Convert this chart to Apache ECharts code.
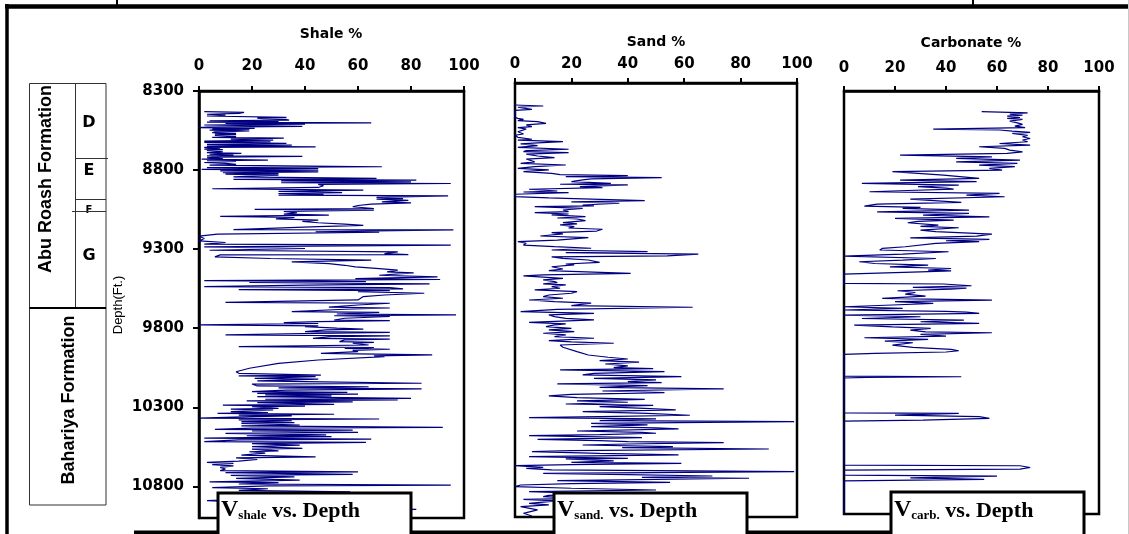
<!DOCTYPE html>
<html>
<head>
<meta charset="utf-8">
<script src="https://cdn.jsdelivr.net/npm/echarts@6/dist/echarts.min.js"></script>
<style>
html,body{margin:0;padding:0;background:#fff;}
#c{width:1129px;height:534px;}
</style>
</head>
<body>
<div id="c"></div>
<script>
// ---------- DATA ----------
const depthTicks = [8300, 8800, 9300, 9800, 10300, 10800];
const depthRange = [8300, 11000];
const pctRange = [0, 100];
const panelTitles = ['Shale %', 'Sand %', 'Carbonate %'];
const panelNotes = [['V', 'shale'], ['V', 'sand.'], ['V', 'carb.']];
const formationNames = ['Abu Roash Formation', 'Bahariya Formation'];
const memberNames = ['D', 'E', 'F', 'G'];
const depthName = 'Depth(Ft.)';

// [depth (ft), shale %]
const shaleLog = [
[8431,2],[8435,17],[8442,15],[8447,3],[8452,10],[8458,3],[8467,33],[8471,22],[8475,24],[8480,33],[8484,34],[8488,4],[8492,30],[8497,3],[8501,65],[8505,10],[8509,40],[8515,2],[8519,20],[8524,39],[8528,3],[8532,0],[8536,21],[8539,5],[8543,19],[8547,4],[8553,19],[8558,6],[8564,5],[8568,14],[8572,6],[8576,14],[8581,6],[8589,14],[8593,5],[8598,32],[8604,12],[8610,28],[8617,2],[8621,27],[8625,2],[8631,33],[8637,3],[8642,35],[8648,3],[8653,44],[8657,2],[8661,8],[8667,2],[8671,9],[8676,3],[8684,9],[8690,3],[8695,16],[8700,4],[8705,13],[8710,3],[8714,39],[8718,6],[8722,3],[8727,9],[8731,1],[8737,26],[8741,3],[8745,14],[8752,2],[8758,10],[8764,14],[8769,4],[8779,69],[8785,3],[8790,45],[8796,1],[8800,45],[8805,8],[8811,45],[8817,9],[8822,30],[8826,10],[8832,30],[8838,30],[8843,13],[8853,67],[8859,13],[8864,82],[8868,31],[8874,80],[8880,31],[8885,95],[8890,45],[8899,47],[8910,45],[8918,5],[8927,62],[8935,30],[8942,54],[8948,30],[8954,47],[8958,30],[8963,94],[8973,67],[8980,77],[8984,67],[8992,79],[9001,69],[9007,80],[9015,65],[9024,60],[9032,58],[9043,66],[9048,21],[9053,66],[9062,32],[9070,37],[9079,32],[9085,49],[9093,8],[9100,36],[9108,29],[9117,45],[9125,39],[9133,45],[9142,55],[9150,62],[9158,45],[9165,45],[9176,13],[9178,96],[9190,44],[9193,68],[9205,7],[9218,0],[9233,2],[9248,0],[9258,10],[9268,2],[9275,95],[9285,2],[9296,40],[9307,4],[9317,75],[9328,70],[9334,79],[9336,8],[9349,6],[9359,27],[9370,65],[9380,35],[9391,49],[9402,55],[9412,59],[9423,68],[9433,75],[9444,71],[9450,81],[9465,68],[9475,90],[9486,59],[9492,91],
[9494,60],[9499,2],[9505,63],[9511,19],[9520,87],[9528,40],[9537,2],[9543,72],[9551,77],[9556,15],[9562,72],[9568,60],[9579,85],[9590,70],[9600,62],[9621,60],[9636,10],[9642,72],[9653,60],[9667,49],[9672,72],[9680,55],[9695,35],[9700,68],[9710,52],[9716,97],[9721,51],[9726,72],[9737,55],[9748,51],[9752,72],[9758,45],[9764,32],[9770,45],[9779,0],[9785,45],[9790,40],[9800,52],[9806,62],[9811,48],[9821,40],[9826,72],[9832,45],[9842,10],[9848,72],[9853,50],[9864,43],[9869,72],[9874,55],[9885,53],[9890,66],[9895,58],[9906,64],[9916,15],[9922,66],[9927,55],[9933,72],[9940,58],[9948,60],[9959,46],[9969,88],[9975,66],[9980,70],[10001,45],[10022,30],[10053,19],[10075,14],[10085,15],[10096,46],[10101,15],[10106,44],[10117,21],[10122,45],[10127,35],[10133,22],[10138,40],[10148,84],[10153,20],[10165,22],[10170,64],[10177,30],[10184,84],[10192,33],[10201,20],[10206,56],[10212,22],[10217,60],[10222,25],[10228,50],[10233,22],[10243,80],[10249,25],[10254,75],[10260,18],[10266,58],[10271,22],[10281,51],[10286,9],[10292,40],[10296,20],[10307,30],[10312,12],[10317,28],[10328,12],[10333,26],[10338,7],[10344,51],[10349,15],[10354,35],[10359,20],[10369,0],[10374,68],[10380,15],[10385,35],[10391,16],[10397,36],[10402,16],[10412,38],[10418,16],[10427,92],[10432,20],[10440,6],[10444,58],[10450,20],[10458,60],[10465,10],[10474,48],[10480,18],[10486,50],[10495,2],[10501,65],[10506,15],[10517,2],[10522,63],[10530,20],[10539,38],[10549,20],[10560,39],[10565,20],[10575,30],[10581,19],[10590,25],[10603,16],[10613,44],[10620,14],[10630,22],[10640,15],[10648,3],[10655,13],[10662,5],[10670,13],[10680,8],[10690,10],[10700,8],[10708,60],[10713,10],[10724,58],[10730,12],[10740,36],[10750,14],[10760,38],[10771,4],[10776,30],[10785,15],[10792,95],[10797,26],[10808,5],[10815,26],[10825,15],[10834,57],[10840,12],[10855,30],[10868,8],[10880,20],[10890,3],[10900,18],[10915,25],[10930,40],[10946,82],[10960,20],[10975,30],[10988,10]
];

// [depth (ft), sand %]
const sandLog = [
[8437,0],[8443,10],[8451,1],[8464,6],[8470,0],[8489,0],[8513,0],[8520,1],[8526,3],[8534,1],[8540,8],[8551,11],[8561,4],[8571,6],[8578,1],[8586,4],[8592,3],[8603,1],[8617,3],[8625,0],[8638,1],[8650,6],[8656,1],[8665,17],[8673,8],[8679,2],[8690,8],[8700,1],[8712,19],[8721,4],[8727,3],[8733,19],[8742,4],[8754,8],[8764,14],[8773,4],[8779,4],[8791,7],[8800,2],[8810,18],[8820,7],[8831,1],[8841,12],[8851,3],[8862,13],[8870,16],[8876,40],[8883,18],[8889,52],[8897,27],[8903,24],[8914,20],[8924,34],[8930,16],[8934,40],[8945,23],[8951,31],[8961,5],[8972,15],[8978,3],[8982,19],[8992,0],[9007,0],[9015,12],[9021,24],[9032,46],[9040,20],[9048,37],[9059,24],[9065,28],[9069,7],[9080,24],[9090,17],[9100,19],[9107,7],[9115,19],[9121,13],[9131,25],[9140,15],[9146,22],[9156,25],[9169,17],[9177,22],[9183,16],[9194,21],[9202,19],[9210,31],[9221,29],[9231,13],[9239,17],[9252,9],[9262,26],[9277,15],[9287,1],[9297,4],[9308,3],[9318,14],[9328,27],[9339,13],[9349,47],[9355,18],[9364,65],[9376,54],[9382,13],[9391,17],[9401,26],[9416,30],[9426,18],[9432,21],[9443,13],[9457,17],[9467,12],[9484,41],[9494,10],
[9500,3],[9515,17],[9525,10],[9536,14],[9542,15],[9550,10],[9556,18],[9567,13],[9577,16],[9587,7],[9598,22],[9608,20],[9619,12],[9629,10],[9639,17],[9650,5],[9660,14],[9670,27],[9685,20],[9695,63],[9708,15],[9722,2],[9733,28],[9743,12],[9753,14],[9764,18],[9774,28],[9789,5],[9799,18],[9805,14],[9816,11],[9826,20],[9836,12],[9847,21],[9857,10],[9867,18],[9878,14],[9888,28],[9903,12],[9911,20],[9919,35],[9930,16],[9944,17],[9971,22],[9992,26],[10006,33],[10017,40],[10027,30],[10037,44],[10048,32],[10060,40],[10071,35],[10077,49],[10085,16],[10096,53],[10106,28],[10116,24],[10127,59],[10137,28],[10147,50],[10158,40],[10164,52],[10172,15],[10183,47],[10193,30],[10203,74],[10216,31],[10226,53],[10237,20],[10247,12],[10257,22],[10268,46],[10278,22],[10286,40],[10297,18],[10305,49],[10313,30],[10324,46],[10334,57],[10344,24],[10355,47],[10367,62],[10376,30],[10382,5],[10390,50],[10400,30],[10407,99],[10417,27],[10427,47],[10438,27],[10446,50],[10452,58],[10465,22],[10473,45],[10479,50],[10488,30],[10494,5],[10506,45],[10517,8],[10525,30],[10531,40],[10537,74],[10546,40],[10552,24],[10562,56],[10568,38],[10577,90],[10587,20],[10593,6],[10604,30],[10614,58],[10624,5],[10635,40],[10639,18],[10651,35],[10660,20],[10666,59],[10674,20],[10680,0],[10691,10],[10697,4],[10707,13],[10718,99],[10728,10],[10736,40],[10745,70],[10753,45],[10759,83],[10770,30],[10774,15],[10784,55],[10792,20],[10801,2],[10811,0],[10821,20],[10832,50],[10842,5],[10857,30],[10865,12],[10873,10],[10884,25],[10890,3],[10900,15],[10915,5],[10925,12],[10936,2],[10956,8],[10977,3],[10994,6]
];

// [depth (ft), carbonate %]
const carbLog = [
[8432,54],[8439,72],[8447,65],[8454,70],[8460,64],[8469,69],[8475,64],[8481,70],[8492,65],[8503,68],[8513,70],[8524,67],[8534,71],[8543,35],[8549,61],[8556,66],[8564,73],[8571,66],[8583,72],[8592,70],[8603,73],[8613,70],[8624,72],[8635,61],[8645,73],[8656,53],[8666,63],[8677,65],[8688,70],[8698,64],[8709,22],[8720,58],[8730,44],[8741,69],[8752,44],[8762,68],[8773,53],[8783,67],[8794,57],[8805,62],[8815,19],[8826,19],[8837,39],[8847,39],[8858,53],[8869,22],[8879,52],[8890,7],[8901,45],[8911,29],[8920,40],[8926,43],[8935,25],[8943,10],[8954,61],[8964,48],[8975,63],[8990,26],[9001,26],[9011,46],[9022,13],[9035,8],[9043,30],[9049,23],[9060,49],[9071,13],[9081,49],[9092,31],[9103,57],[9113,20],[9124,43],[9132,29],[9141,25],[9156,37],[9164,30],[9173,45],[9188,30],[9198,36],[9213,58],[9226,52],[9237,26],[9247,57],[9256,40],[9262,53],[9273,36],[9284,36],[9294,24],[9305,15],[9315,14],[9326,41],[9341,23],[9354,0],[9369,36],[9379,23],[9390,6],[9401,12],[9411,33],[9422,18],[9433,42],[9443,33],[9448,42],[9454,30],[9469,0],
[9528,0],[9532,39],[9543,50],[9554,27],[9558,48],[9564,42],[9575,21],[9586,28],[9596,24],[9609,32],[9624,15],[9635,58],[9645,20],[9656,35],[9666,19],[9677,0],[9688,23],[9698,0],[9707,40],[9711,48],[9720,53],[9730,0],[9741,30],[9752,7],[9762,47],[9773,30],[9783,53],[9794,4],[9805,19],[9815,34],[9826,26],[9837,32],[9843,58],[9854,30],[9864,40],[9875,8],[9886,33],[9896,16],[9907,27],[9922,19],[9937,27],[9949,42],[9958,45],[9966,40],[9975,12],[9981,0],
[10120,0],[10124,46],[10128,9],[10132,0],[10354,0],[10358,45],[10369,20],[10379,53],[10390,57],[10401,31],[10407,0],[10688,0],[10692,69],[10703,73],[10713,69],[10720,0],[10752,0],[10758,60],[10769,26],[10779,55],[10788,0],[10995,0]
];

const logs = [shaleLog, sandLog, carbLog];

// ---------- LAYOUT ----------
const gridBoxes = [
  {left: 199, top: 91, width: 265, height: 427},
  {left: 515, top: 83, width: 282, height: 434},
  {left: 844, top: 91, width: 255, height: 423}
];
const xLabelMargin = [17, 11, 15];
const titlePos = [[331, 34], [656, 42], [971, 43]];
const notePos = [[218, 493], [554, 493], [891, 492]];

const BLACK = '#000';
const LINE = '#000080';
const SANS = '"DejaVu Sans", sans-serif';
const SERIF = '"Liberation Serif", "Times New Roman", serif';

const chart = echarts.init(document.getElementById('c'), null, {renderer: 'canvas'});

const grid = gridBoxes.map(g => Object.assign({}, g, {
  show: true, borderColor: BLACK, borderWidth: 2.5, backgroundColor: 'transparent', containLabel: false
}));

const xAxis = gridBoxes.map((g, i) => ({
  type: 'value', gridIndex: i, position: 'top',
  min: pctRange[0], max: pctRange[1], interval: 20,
  axisLine: {show: true, lineStyle: {color: BLACK, width: 2.5}},
  axisTick: {show: true, inside: false, length: 5, lineStyle: {color: BLACK, width: 2}},
  axisLabel: {show: true, color: BLACK, fontFamily: SANS, fontWeight: 'bold', fontSize: 15, margin: xLabelMargin[i],
    formatter: v => String(v)},
  splitLine: {show: false}
}));

const yAxis = gridBoxes.map((g, i) => i === 0 ? ({
  type: 'value', gridIndex: i, inverse: true,
  min: depthRange[0], max: depthRange[1],
  axisLine: {show: true, lineStyle: {color: BLACK, width: 2.5}},
  axisTick: {show: true, inside: false, length: 6, customValues: depthTicks, lineStyle: {color: BLACK, width: 2}},
  axisLabel: {show: true, customValues: depthTicks, color: BLACK, fontFamily: SANS, fontWeight: 'bold', fontSize: 15, margin: 15,
    formatter: v => String(v)},
  splitLine: {show: false}
}) : ({
  type: 'value', gridIndex: i, inverse: true,
  min: depthRange[0], max: depthRange[1], show: false,
  splitLine: {show: false}
}));

const series = logs.map((log, i) => ({
  type: 'line', xAxisIndex: i, yAxisIndex: i,
  data: log.map(p => [p[1], p[0]]),
  showSymbol: false, symbol: 'none', silent: true, z: 3,
  lineStyle: {color: LINE, width: 1.2},
  clip: true
}));

// ---------- GRAPHICS ----------
const gfx = [];
function ln(x1, y1, x2, y2, w, c, z) {
  gfx.push({type: 'line', z: z || 50, silent: true, shape: {x1, y1, x2, y2}, style: {stroke: c || BLACK, lineWidth: w}});
}
function txt(x, y, text, font, opts) {
  gfx.push(Object.assign({type: 'text', z: 60, silent: true, x, y,
    style: {text, font, fill: BLACK, align: 'center', verticalAlign: 'middle'}}, opts || {}));
}

// outer frame
ln(5, 6.5, 1129, 6.5, 4.5);
ln(7, 4, 7, 534, 3.5);
ln(117, 0, 117, 6, 2);
ln(973, 0, 973, 6, 2);
ln(134, 532.5, 1000, 532.5, 4);
ln(1128.5, 0, 1128.5, 534, 1, '#c8c8c8');

// formation column
gfx.push({type: 'rect', z: 50, silent: true, shape: {x: 29.5, y: 83.5, width: 76.5, height: 421.5},
  style: {fill: 'none', stroke: '#333', lineWidth: 1}});
ln(75.5, 83.5, 75.5, 308, 1, '#333');
ln(29.5, 308, 106, 308, 2);
ln(75.5, 158.5, 108, 158.5, 1, '#333');
ln(75.5, 199.5, 106, 199.5, 1, '#333');
txt(46, 179, formationNames[0], 'bold 18px "Liberation Sans"', {rotation: Math.PI / 2});
txt(69, 400, formationNames[1], 'bold 18px "Liberation Sans"', {rotation: Math.PI / 2});
txt(89, 123, memberNames[0], 'bold 16px "DejaVu Sans"');
txt(89, 171, memberNames[1], 'bold 16px "DejaVu Sans"');
txt(89, 210, memberNames[2], 'bold 10px "DejaVu Sans"');
txt(89, 256, memberNames[3], 'bold 16px "DejaVu Sans"');
ln(72, 211.5, 106, 211.5, 1, '#333', 61);

// depth axis name
txt(118, 305, depthName, '13px "Liberation Sans"', {rotation: Math.PI / 2});

// panel titles
panelTitles.forEach((t, i) => txt(titlePos[i][0], titlePos[i][1], t, 'bold 14px "DejaVu Sans"'));

// annotation boxes
panelNotes.forEach((n, i) => {
  const [bx, by] = notePos[i];
  gfx.push({type: 'rect', z: 80, silent: true, shape: {x: bx, y: by, width: 193, height: 50},
    style: {fill: '#fff', stroke: BLACK, lineWidth: 3}});
  gfx.push({type: 'text', z: 81, silent: true, x: bx + 3, y: 510,
    style: {
      text: '{v|' + n[0] + '}{s|' + n[1] + '}{t| vs. Depth}',
      align: 'left', verticalAlign: 'middle', fill: BLACK,
      rich: {
        v: {fontFamily: SERIF, fontWeight: 'bold', fontSize: 24, lineHeight: 24, verticalAlign: 'bottom', fill: BLACK},
        s: {fontFamily: SERIF, fontWeight: 'bold', fontSize: 13, lineHeight: 13, verticalAlign: 'bottom', fill: BLACK},
        t: {fontFamily: SERIF, fontWeight: 'bold', fontSize: 22, lineHeight: 24, verticalAlign: 'bottom', fill: BLACK}
      }
    }});
});

chart.setOption({
  animation: false,
  backgroundColor: '#fff',
  grid, xAxis, yAxis, series,
  graphic: {elements: gfx}
});
</script>
</body>
</html>
